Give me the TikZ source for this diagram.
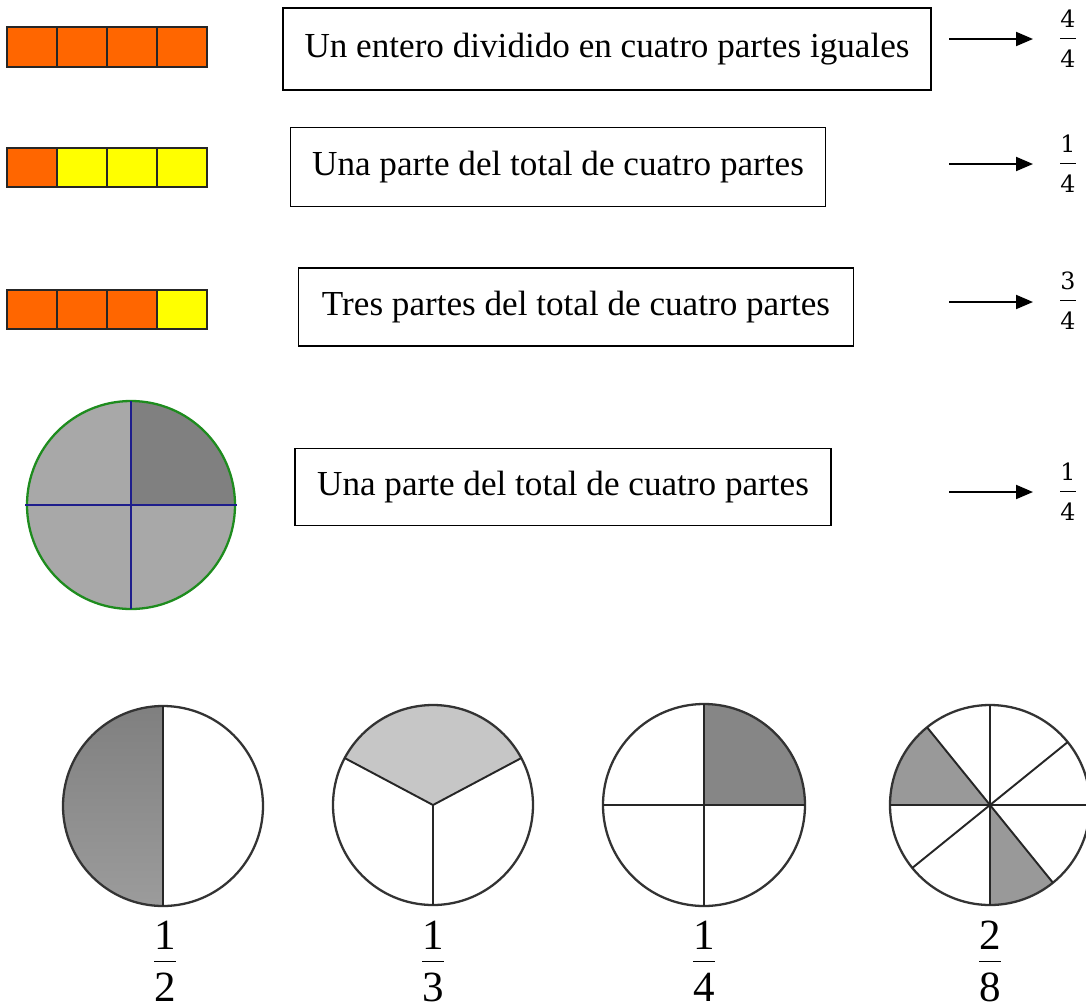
\documentclass[tikz,border=0pt]{standalone}
\usepackage{fontspec}
\setmainfont{Liberation Serif}
\newfontfamily\cifras{DejaVu Serif}
\usetikzlibrary{positioning,arrows.meta}

\definecolor{naranja}{HTML}{FF6600}
\definecolor{amarillo}{HTML}{FFFF00}
\definecolor{grisclaro}{HTML}{A8A8A8}
\definecolor{grisoscuro}{HTML}{808080}
\definecolor{verde}{HTML}{1E8C1E}
\definecolor{azul}{HTML}{1E1E8C}

% fractions with text digits
\newcommand{\fracpeq}[2]{$\displaystyle\frac{\mbox{\cifras #1}}{\raisebox{-0.2em}{\cifras #2}}$}
\newcommand{\fracgr}[2]{$\displaystyle\frac{\raisebox{-0.16em}{#1}}{\mbox{#2}}$}

\begin{document}
\begin{tikzpicture}[
  x=0.02cm,
  y=-0.02cm,
  font=\fontsize{20}{24}\selectfont,
  cell/.style={
    draw=black!85,
    line width=0.9pt
  },
  textbox/.style={
    rectangle,
    draw=black,
    line width=0.8pt,
    align=center,
    inner sep=0pt
  },
  arrow/.style={
    -{Triangle[length=0.34cm,width=0.28cm]},
    line width=1.1pt,
    shorten >=0.5cm
  },
  smallfrac/.style={
    font=\fontsize{13.5}{16}\selectfont,
    inner sep=0pt,
    anchor=base
  },
  bigfrac/.style={
    font=\fontsize{24.5}{29}\selectfont,
    inner sep=0pt,
    anchor=base
  },
  rim/.style={
    draw=black!80,
    line width=1.3pt
  },
  spoke/.style={
    draw=black!85,
    line width=1.1pt
  }
]
\useasboundingbox (0,0) rectangle (1086,1008);

% Bars
\foreach \i/\c in {0/naranja,1/naranja,2/naranja,3/naranja}
  \draw[cell, fill=\c] (7+50*\i,27) rectangle ++(50,40);
\foreach \i/\c in {0/naranja,1/amarillo,2/amarillo,3/amarillo}
  \draw[cell, fill=\c] (7+50*\i,148) rectangle ++(50,39);
\foreach \i/\c in {0/naranja,1/naranja,2/naranja,3/amarillo}
  \draw[cell, fill=\c] (7+50*\i,290) rectangle ++(50,39);

% Text boxes
\node[textbox, minimum width=12.96cm, minimum height=1.64cm] (t1) at (607,49) {Un entero dividido en cuatro partes iguales};
\node[textbox, minimum width=10.70cm, minimum height=1.58cm] (t2) at (558,167) {Una parte del total de cuatro partes};
\node[textbox, minimum width=11.10cm, minimum height=1.56cm] (t3) at (576,307) {Tres partes del total de cuatro partes};
\node[textbox, minimum width=10.72cm, minimum height=1.54cm] (t4) at (563,487) {Una parte del total de cuatro partes};

% Fractions on the right (base = bar + axis)
\node[smallfrac] (f1) at (1068,45) {\fracpeq{4}{4}};
\node[smallfrac] (f2) at (1068,170) {\fracpeq{1}{4}};
\node[smallfrac] (f3) at (1068,307) {\fracpeq{3}{4}};
\node[smallfrac] (f4) at (1068,498) {\fracpeq{1}{4}};

\coordinate (a1) at (949,39);
\coordinate (a2) at (949,164);
\coordinate (a3) at (949,302);
\coordinate (a4) at (949,492);
\foreach \k in {1,...,4}
  \draw[arrow] (a\k) -- (a\k -| f\k.west);

% Circle in quarters
\begin{scope}[shift={(131,505)}, yscale=-1]
  \fill[grisclaro] (0,0) circle[radius=104];
  \fill[grisoscuro] (0,0) -- (0:104) arc[start angle=0, end angle=90, radius=104] -- cycle;
  \draw[verde, line width=1.3pt] (0,0) circle[radius=104];
  \draw[azul, line width=1pt] (-106,0) -- (106,0) (0,-104) -- (0,104);
\end{scope}

% One half
\begin{scope}[shift={(163,806)}, yscale=-1]
  \shade[top color=black!50, bottom color=black!39] (0,0) -- (90:100) arc[start angle=90, end angle=270, radius=100] -- cycle;
  \draw[rim] (0,0) circle[radius=100];
  \draw[spoke] (0,-100) -- (0,100);
\end{scope}
\node[bigfrac] (h1) at (165,972) {\fracgr{1}{2}};

% One third
\begin{scope}[shift={(433,805)}, yscale=-1]
  \fill[gray!45] (0,0) -- (28:100) arc[start angle=28, end angle=152, radius=100] -- cycle;
  \draw[rim] (0,0) circle[radius=100];
  \draw[spoke] (28:100) -- (0,0) -- (152:100) (0,0) -- (270:100);
\end{scope}
\node[bigfrac] (h2) at (433,972) {\fracgr{1}{3}};

% One quarter
\begin{scope}[shift={(704,805)}, yscale=-1]
  \fill[gray!95] (0,0) -- (0:101) arc[start angle=0, end angle=90, radius=101] -- cycle;
  \draw[rim] (0,0) circle[radius=101];
  \draw[spoke] (-101,0) -- (101,0) (0,-101) -- (0,101);
\end{scope}
\node[bigfrac] (h3) at (704,972) {\fracgr{1}{4}};

% Two eighths
\begin{scope}[shift={(990,805)}, yscale=-1]
  \fill[gray!80] (0,0) -- (129:100) arc[start angle=129, end angle=180, radius=100] -- cycle;
  \fill[gray!80] (0,0) -- (270:100) arc[start angle=270, end angle=309, radius=100] -- cycle;
  \draw[rim] (0,0) circle[radius=100];
  \foreach \a in {0,39,90,129}
    \draw[spoke] (\a:100) -- (\a+180:100);
\end{scope}
\node[bigfrac] (h4) at (990,972) {\fracgr{2}{8}};

\end{tikzpicture}
\end{document}
